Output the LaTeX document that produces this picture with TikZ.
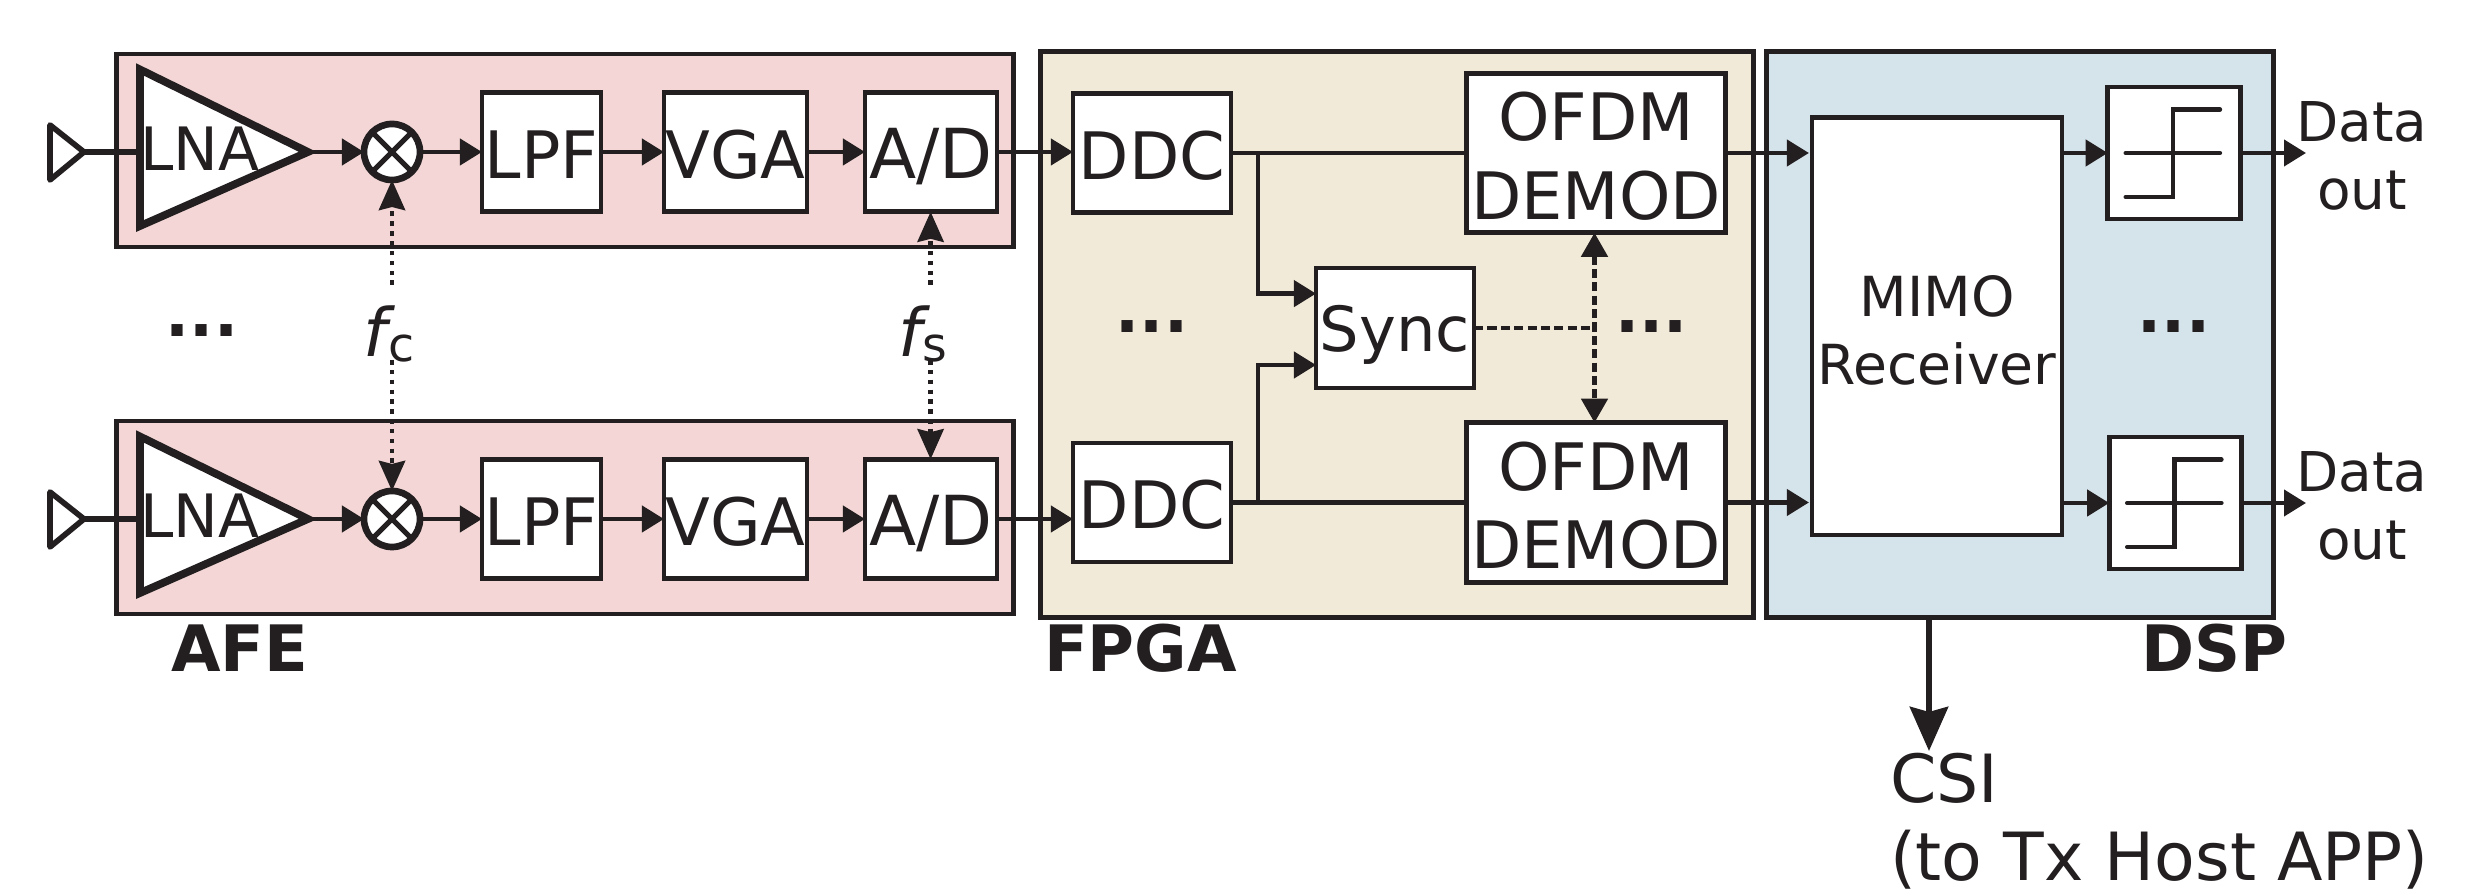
\documentclass[tikz,border=0pt]{standalone}
\usepackage{fontspec}
\setmainfont{DejaVu Sans}
\usepackage{xcolor}
\usetikzlibrary{arrows.meta}
\definecolor{ink}{HTML}{231F20}
\definecolor{afecol}{HTML}{F3D6D5}
\definecolor{fpgacol}{HTML}{F2EAD8}
\definecolor{dspcol}{HTML}{D5E3EB}
\newcommand{\fsz}[2]{\fontsize{#1}{#2}\selectfont}
\tikzset{
  region/.style={draw=ink,line width=1.35pt,inner sep=0pt,outer sep=0pt},
  blk/.style={draw=ink,fill=white,line width=1.35pt,inner sep=0pt,outer sep=0pt,text=ink,font=\fsz{18.6}{22.4},text height=14.8pt,text depth=0pt},
  tall/.style={blk,align=center,text height=,text depth=},
  mixer/.style={circle,draw=ink,fill=white,line width=1.9pt,inner sep=0pt,outer sep=0pt,minimum size=.56cm},
  sig/.style={draw=ink,line width=1.2pt,-{Triangle[length=.22cm,width=.26cm]}},
  wire/.style={draw=ink,line width=1.2pt},
  clk/.style={draw=ink,line width=1.35pt,dash pattern=on 1.3pt off 1.5pt,-{Stealth[length=.3cm,width=.26cm,inset=.03cm]}},
  syncline/.style={draw=ink,line width=1.35pt,dash pattern=on 2.6pt off 1.2pt},
  lbl/.style={inner sep=0pt,outer sep=0pt,text=ink},
  title/.style={lbl,anchor=base west,font=\fsz{18.2}{20}\bfseries},
  dotsym/.style={lbl,font=\fsz{18}{20}\bfseries},
  ant/.style={draw=ink,line width=1.6pt,line join=round},
  lnatri/.style={draw=ink,fill=white,line width=2.2pt,line join=miter},
  symb/.style={draw=ink,line width=1.2pt,line cap=round}
}
\begin{document}
\begin{tikzpicture}[x=0.01cm,y=-0.01cm]
  \useasboundingbox (0,0) rectangle (2480,892);
  % regions
  \node[region,fill=afecol,minimum width=8.96cm,minimum height=1.93cm] (afeA) at (565,150.5) {};
  \node[region,fill=afecol,minimum width=8.96cm,minimum height=1.93cm] (afeB) at (565,517.5) {};
  \node[region,fill=fpgacol,minimum width=7.12cm,minimum height=5.65cm] (fpga) at (1397,334.5) {};
  \node[region,fill=dspcol,minimum width=5.06cm,minimum height=5.65cm] (dsp) at (2020,334.5) {};
  \node[title] (afeT) at (171,672) {AFE};
  \node[title] (fpgaT) at (1044,672) {FPGA};
  \node[title] (dspT) at (2141,672) {DSP};

  % upper AFE chain
  \coordinate (antA) at (84,152);
  \coordinate (tipA) at (308,152);
  \coordinate (lnaInA) at (140,152);
  \draw[ant] (50,125) -- (antA) -- (50,180) -- cycle;
  \draw[wire,line width=1.7pt] (antA) -- (lnaInA);
  \draw[lnatri] (140,69.5) -- (tipA) -- (140,226) -- cycle;
  \node[lbl,font=\fsz{17}{20}] (lnaA) at (200,149) {LNA};
  \node[mixer] (mixA) at (392,152) {};
  \draw[wire,line width=1.5pt] (mixA.45) -- (mixA.225);
  \draw[wire,line width=1.5pt] (mixA.135) -- (mixA.315);
  \node[blk,minimum width=1.19cm,minimum height=1.195cm] (lpfA) at (541.5,152) {LPF};
  \node[blk,minimum width=1.43cm,minimum height=1.195cm] (vgaA) at (735.5,152) {VGA};
  \node[blk,font=\fsz{19.6}{22.4},minimum width=1.32cm,minimum height=1.195cm] (adA) at (931,152) {A/D};
  \draw[sig] (tipA) -- (mixA.west);
  \draw[sig] (mixA.east) -- (lpfA.west);
  \draw[sig] (lpfA.east) -- (vgaA.west);
  \draw[sig] (vgaA.east) -- (adA.west);

  % lower AFE chain
  \coordinate (antB) at (84,519);
  \coordinate (tipB) at (308,519);
  \coordinate (lnaInB) at (140,519);
  \draw[ant] (50,492) -- (antB) -- (50,547) -- cycle;
  \draw[wire,line width=1.7pt] (antB) -- (lnaInB);
  \draw[lnatri] (140,436.5) -- (tipB) -- (140,593) -- cycle;
  \node[lbl,font=\fsz{17}{20}] (lnaB) at (200,516) {LNA};
  \node[mixer] (mixB) at (392,519) {};
  \draw[wire,line width=1.5pt] (mixB.45) -- (mixB.225);
  \draw[wire,line width=1.5pt] (mixB.135) -- (mixB.315);
  \node[blk,minimum width=1.19cm,minimum height=1.195cm] (lpfB) at (541.5,519) {LPF};
  \node[blk,minimum width=1.43cm,minimum height=1.195cm] (vgaB) at (735.5,519) {VGA};
  \node[blk,font=\fsz{19.6}{22.4},minimum width=1.32cm,minimum height=1.195cm] (adB) at (931,519) {A/D};
  \draw[sig] (tipB) -- (mixB.west);
  \draw[sig] (mixB.east) -- (lpfB.west);
  \draw[sig] (lpfB.east) -- (vgaB.west);
  \draw[sig] (vgaB.east) -- (adB.west);

  % clocks
  \node[lbl] (fc) at (389,334) {\fsz{19}{20}\itshape f\kern.2pt\fsz{13.5}{20}\upshape\raisebox{-1.2pt}{c}};
  \node[lbl] (fs) at (923,334) {\fsz{19}{20}\itshape f\kern.2pt\fsz{13.5}{20}\upshape\raisebox{-1.2pt}{s}};
  \coordinate (fcTop) at (392,285);
  \coordinate (fcBot) at (392,360);
  \coordinate (fsTop) at (930.6,285);
  \coordinate (fsBot) at (930.6,360);
  \draw[clk] (fcTop) -- (mixA.south);
  \draw[clk] (fcBot) -- (mixB.north);
  \draw[clk] (fsTop) -- (fsTop |- adA.south);
  \draw[clk] (fsBot) -- (fsBot |- adB.north);
  \node[dotsym] (dotsAfe) at (202,331) {...};

  % FPGA
  \node[blk,minimum width=1.58cm,minimum height=1.19cm] (ddcA) at (1152,153) {DDC};
  \node[blk,minimum width=1.58cm,minimum height=1.19cm] (ddcB) at (1152,502.5) {DDC};
  \node[tall,minimum width=2.59cm,minimum height=1.595cm] (ofdmA) at (1596,153) {\rule{0pt}{15.6pt}OFDM\\DEMOD};
  \node[tall,minimum width=2.59cm,minimum height=1.595cm] (ofdmB) at (1596,502.5) {\rule{0pt}{15.6pt}OFDM\\DEMOD};
  \node[blk,font=\fsz{17.7}{20},text height=13.2pt,minimum width=1.58cm,minimum height=1.2cm] (sync) at (1395,328) {Sync};
  \draw[sig] (adA.east) -- (adA.east -| ddcA.west);
  \draw[sig] (adB.east) -- (adB.east -| ddcB.west);
  \draw[wire] (ddcA.east) -- (ofdmA.west);
  \draw[wire] (ddcB.east) -- (ofdmB.west);
  \coordinate (brA) at (1258,153);
  \coordinate (brB) at (1258,502.5);
  \coordinate (syncInA) at (1316,293.6);
  \coordinate (syncInB) at (1316,365);
  \draw[sig] (brA) |- (syncInA);
  \draw[sig] (brB) |- (syncInB);
  \coordinate (syncJoin) at (1594.5,328);
  \draw[syncline] (sync.east) -- (syncJoin);
  \draw[syncline,{Triangle[length=.24cm,width=.26cm]}-{Triangle[length=.24cm,width=.26cm]}] (syncJoin |- ofdmA.south) -- (syncJoin |- ofdmB.north);
  \node[dotsym] (dotsFpgaA) at (1152,327) {...};
  \node[dotsym] (dotsFpgaB) at (1651.6,327) {...};

  % DSP
  \node[tall,font=\fsz{15.7}{19.2},minimum width=2.5cm,minimum height=4.17cm] (mimo) at (1937,326.5) {\rule{0pt}{14pt}MIMO\\Receiver};
  \node[blk,minimum width=1.325cm,minimum height=1.32cm] (slA) at (2174,153) {};
  \node[blk,minimum width=1.325cm,minimum height=1.32cm] (slB) at (2175.5,503) {};
  \draw[symb] (2125.6,197) -- (2173,197) -- (2173,109.5) -- (2220,109.5);
  \draw[symb] (2125.6,153) -- (2220,153);
  \draw[symb] (2127.1,547) -- (2174.5,547) -- (2174.5,459.5) -- (2221.5,459.5);
  \draw[symb] (2127.1,503) -- (2221.5,503);
  \draw[sig,shorten >=.03cm] (ofdmA.east) -- (mimo.west |- ofdmA.east);
  \draw[sig,shorten >=.03cm] (ofdmB.east) -- (mimo.west |- ofdmB.east);
  \draw[sig] (mimo.east |- slA.west) -- (slA.west);
  \draw[sig] (mimo.east |- slB.west) -- (slB.west);
  \coordinate (outA) at (2306,153);
  \coordinate (outB) at (2306,503);
  \draw[sig] (slA.east) -- (outA);
  \draw[sig] (slB.east) -- (outB);
  \node[lbl,align=center,font=\fsz{15.6}{19.3}] (dataA) at (2362,156) {Data\\out};
  \node[lbl,align=center,font=\fsz{15.6}{19.3}] (dataB) at (2362,506) {Data\\out};
  \node[dotsym] (dotsDsp) at (2174,327) {...};
  \coordinate (csiTop) at (1929,617);
  \coordinate (csiEnd) at (1929,751);
  \draw[draw=ink,line width=1.8pt,-{Stealth[length=.44cm,width=.38cm,inset=.05cm]}] (csiTop) -- (csiEnd);
  \node[lbl,anchor=base west,font=\fsz{18.9}{22}] (csi) at (1890,803) {CSI};
  \node[lbl,anchor=base west,font=\fsz{18.9}{22}] (csiHost) at (1890,881) {(to Tx Host APP)};
\end{tikzpicture}
\end{document}
